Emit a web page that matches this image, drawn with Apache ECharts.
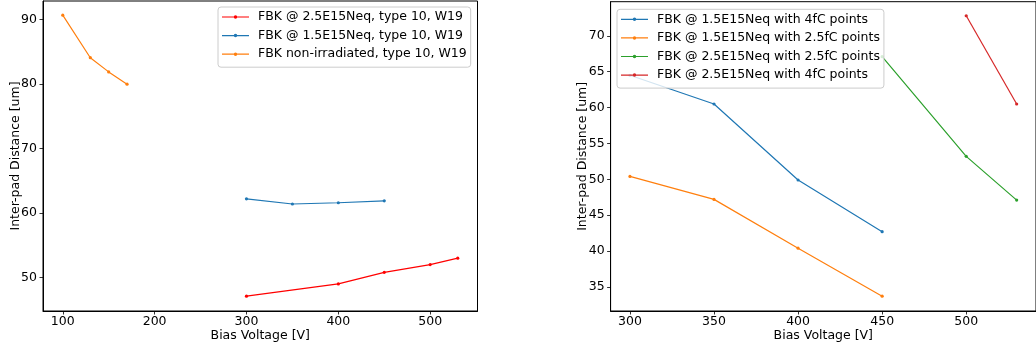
<!DOCTYPE html>
<html>
<head>
<meta charset="utf-8">
<script src="https://cdn.jsdelivr.net/npm/echarts@6/dist/echarts.min.js"></script>
<style>
html,body{margin:0;padding:0;background:#fff;}
#chart{width:1036px;height:349px;}
</style>
</head>
<body>
<div id="chart"></div>
<script>
// ---- Left panel data ----
const leftRedX = [300, 400, 450, 500, 530];
const leftRedY = [47.1, 49.0, 50.8, 52.0, 53.0];
const leftBlueX = [300, 350, 400, 450];
const leftBlueY = [62.2, 61.4, 61.6, 61.9];
const leftOrangeX = [100, 130, 150, 170];
const leftOrangeY = [90.7, 84.1, 81.9, 80.0];
const leftNames = ['FBK @ 2.5E15Neq, type 10, W19', 'FBK @ 1.5E15Neq, type 10, W19', 'FBK non-irradiated, type 10, W19'];
const leftXTicks = [100, 200, 300, 400, 500];
const leftYTicks = [50, 60, 70, 80, 90];

// ---- Right panel data ----
const rightBlueX = [300, 350, 400, 450];
const rightBlueY = [64.5, 60.5, 49.9, 42.7];
const rightOrangeX = [300, 350, 400, 450];
const rightOrangeY = [50.4, 47.2, 40.4, 33.7];
const rightGreenX = [450, 500, 530];
const rightGreenY = [67.1, 53.2, 47.1];
const rightRedX = [500, 530];
const rightRedY = [72.8, 60.5];
const rightNames = ['FBK @ 1.5E15Neq with 4fC points', 'FBK @ 1.5E15Neq with 2.5fC points', 'FBK @ 2.5E15Neq with 2.5fC points', 'FBK @ 2.5E15Neq with 4fC points'];
const rightXTicks = [300, 350, 400, 450, 500];
const rightYTicks = [35, 40, 45, 50, 55, 60, 65, 70];

const FONT = 'DejaVu Sans';
const FS = 12.5;
const LEGEND_ICON = 'path://M0 1.15 L27 1.15 L27 2.35 L0 2.35 Z M11.75 1.75 A1.75 1.75 0 1 1 15.25 1.75 A1.75 1.75 0 1 1 11.75 1.75 Z';

function zip(xs, ys) { return xs.map((x, i) => [x, ys[i]]); }

function mkSeries(name, xs, ys, color, axisIdx) {
  return {
    type: 'line', name: name, data: zip(xs, ys),
    xAxisIndex: axisIdx, yAxisIndex: axisIdx,
    symbol: 'circle', symbolSize: 3.2, showSymbol: true,
    lineStyle: { color: color, width: 1.2 },
    itemStyle: { color: color },
    animation: false
  };
}

function mkXAxis(idx, min, max, ticks) {
  return {
    type: 'value', gridIndex: idx, min: min, max: max,
    name: 'Bias Voltage [V]', nameLocation: 'middle', nameGap: 18.3, nameMoveOverlap: false,
    nameTextStyle: { fontFamily: FONT, fontSize: FS, color: '#000' },
    axisLine: { show: true, lineStyle: { color: '#000', width: 1 } },
    axisTick: { show: true, inside: false, length: 3.5, customValues: ticks, lineStyle: { color: '#000', width: 0.8 } },
    axisLabel: { show: true, customValues: ticks, margin: 4, fontFamily: FONT, fontSize: FS, color: '#000' },
    splitLine: { show: false }
  };
}

function mkYAxis(idx, min, max, ticks) {
  return {
    type: 'value', gridIndex: idx, min: min, max: max,
    name: 'Inter-pad Distance [um]', nameLocation: 'middle', nameGap: 21, nameMoveOverlap: false,
    nameTextStyle: { fontFamily: FONT, fontSize: FS, color: '#000' },
    axisLine: { show: true, lineStyle: { color: '#000', width: 1 } },
    axisTick: { show: true, inside: false, length: 3.5, customValues: ticks, lineStyle: { color: '#000', width: 0.8 } },
    axisLabel: { show: true, customValues: ticks, margin: 6, fontFamily: FONT, fontSize: FS, color: '#000' },
    splitLine: { show: false }
  };
}

function mkLegend(names, left, top) {
  return {
    show: true, data: names, orient: 'vertical', left: left, top: top,
    icon: LEGEND_ICON,
    itemWidth: 27, itemHeight: 14, itemGap: 4.6,
    padding: [3, 4, 6, 4],
    backgroundColor: 'rgba(255,255,255,0.8)',
    borderColor: '#cccccc', borderWidth: 1, borderRadius: 3,
    itemStyle: { borderWidth: 0 },
    lineStyle: { width: 0 },
    textStyle: { fontFamily: FONT, fontSize: FS, color: '#000', padding: [0, 0, 0, 4], lineHeight: 14 },
    selectedMode: false
  };
}

const chart = echarts.init(document.getElementById('chart'), null, { renderer: 'canvas' });
chart.setOption({
  backgroundColor: '#fff',
  animation: false,
  grid: [
    { left: 43, top: 1, width: 434.5, height: 310, show: true, borderColor: '#000', borderWidth: 1, backgroundColor: 'transparent' },
    { left: 610.6, top: 1.7, width: 434.1, height: 309.3, show: true, borderColor: '#000', borderWidth: 1, backgroundColor: 'transparent' }
  ],
  xAxis: [ mkXAxis(0, 78.5, 551.5, leftXTicks), mkXAxis(1, 288.5, 541.5, rightXTicks) ],
  yAxis: [ mkYAxis(0, 44.8, 92.9, leftYTicks), mkYAxis(1, 31.64, 74.76, rightYTicks) ],
  legend: [ mkLegend(leftNames, 218, 7), mkLegend(rightNames, 617, 9.3) ],
  series: [
    mkSeries(leftNames[0], leftRedX, leftRedY, '#ff0000', 0),
    mkSeries(leftNames[1], leftBlueX, leftBlueY, '#1f77b4', 0),
    mkSeries(leftNames[2], leftOrangeX, leftOrangeY, '#ff7f0e', 0),
    mkSeries(rightNames[0], rightBlueX, rightBlueY, '#1f77b4', 1),
    mkSeries(rightNames[1], rightOrangeX, rightOrangeY, '#ff7f0e', 1),
    mkSeries(rightNames[2], rightGreenX, rightGreenY, '#2ca02c', 1),
    mkSeries(rightNames[3], rightRedX, rightRedY, '#d62728', 1)
  ]
});
</script>
</body>
</html>
